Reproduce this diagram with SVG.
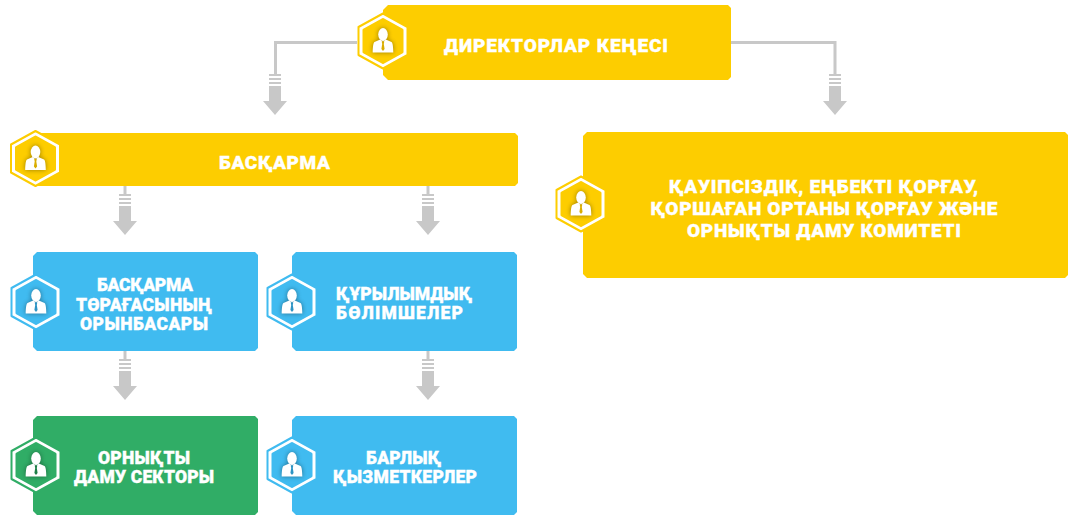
<svg xmlns="http://www.w3.org/2000/svg" width="1081" height="523" viewBox="0 0 1081 523">
<style>
text{font-family:"Roboto","Liberation Sans",sans-serif;font-weight:900;font-size:19px;fill:#fff;stroke:#fff;stroke-width:.35px;text-anchor:middle}
.s{font-size:17.500px}
.y{fill:#fdcd00}.b{fill:#40bbf0}.g{fill:#30ad66}
.ln{fill:none;stroke:#c8c8c8;stroke-width:3}
.ar{fill:#c8c8c8}
.hy{stroke:#fdcd00}.hb{stroke:#40bbf0}.hg{stroke:#30ad66}
.ho{fill:#fff;stroke-width:2;stroke-linejoin:round}
.hi{stroke-width:3;stroke-linejoin:round}
</style>
<defs>
<filter id="sh" x="-60%" y="-60%" width="220%" height="220%"><feGaussianBlur stdDeviation="2.800"/></filter>
<path id="arrow" d="M-6-41H6v2H-6zM-6-37H6v2H-6zM-6-33H6v2H-6zM-6-29H6v15H12L0 0-12-14H-6z"/>
<path id="body" d="M-2.800-1.500 0 1 2.800-1.500 8.500 1C10 2 10.300 8 10.300 11.500H-10.300C-10.300 8-10 2-8.500 1Z"/>
<g id="man"><use href="#body" fill="#000" opacity=".4" filter="url(#sh)"/><ellipse cx="0" cy="-6.500" rx="4.800" ry="6.500" fill="#000" opacity=".4" filter="url(#sh)"/><ellipse cx="0" cy="-6.500" rx="4.800" ry="6.500" fill="#fff"/><use href="#body" fill="#fff"/><path d="M-1.300 0.500H1.300L.8 3 1.600 8 0 10-1.600 8-.8 3Z"/></g>
<polygon id="hexo" points="0,-27.500 24.500,-14 24.500,14 0,27.500 -24.500,14 -24.500,-14"/>
<polygon id="hexi" points="0,-21.500 19,-11 19,11 0,21.500 -19,11 -19,-11"/>
<g id="iy"><use href="#hexo" class="ho hy"/><use href="#hexi" class="hi hy y"/><use href="#man" fill="#d9ad00"/></g>
<g id="ib"><use href="#hexo" class="ho hb"/><use href="#hexi" class="hi hb b"/><use href="#man" fill="#2d94c4"/></g>
<g id="ig"><use href="#hexo" class="ho hg"/><use href="#hexi" class="hi hg g"/><use href="#man" fill="#1d7f47"/></g>
</defs>
<g id="connectors">
<path class="ln" d="M357 42.500H275.500V74"/>
<path class="ln" d="M731 42.500H835V74"/>
<path class="ln" d="M125 186V194"/>
<path class="ln" d="M428 186V194"/>
<path class="ln" d="M125 351V359"/>
<path class="ln" d="M428 351V359"/>
<g class="ar">
<use href="#arrow" x="275" y="115"/>
<use href="#arrow" x="835" y="115"/>
<use href="#arrow" x="125" y="235"/>
<use href="#arrow" x="428" y="235"/>
<use href="#arrow" x="125" y="400"/>
<use href="#arrow" x="428" y="400"/>
</g>
</g>
<g id="n-directors">
<path class="y" d="M388 5H728L731 8V77L728 80H388L383 75V10Z"/>
<use href="#iy" x="383" y="41"/>
<text x="556" y="52" textLength="224">ДИРЕКТОРЛАР КЕҢЕСІ</text>
</g>
<g id="n-board">
<path class="y" d="M38 133H515L518 136V183L515 186H38L33 181V138Z"/>
<use href="#iy" x="35.500" y="158.500"/>
<text x="274.500" y="169" textLength="111">БАСҚАРМА</text>
</g>
<g id="n-committee">
<path class="y" d="M587 132H1065L1068 135V275L1065 278H587L583 274V136Z"/>
<use href="#iy" x="581" y="204"/>
<text x="823.500" y="193" textLength="309">ҚАУІПСІЗДІК, ЕҢБЕКТІ ҚОРҒАУ,</text>
<text x="824" y="215" textLength="347">ҚОРШАҒАН ОРТАНЫ ҚОРҒАУ ЖӘНЕ</text>
<text x="824" y="237" textLength="274">ОРНЫҚТЫ ДАМУ КОМИТЕТІ</text>
</g>
<g id="n-deputy">
<path class="b" d="M37 252H255L258 255V348L255 351H37L33 347V256Z"/>
<use href="#ib" x="36" y="302"/>
<text class="s" x="145" y="291" textLength="96">БАСҚАРМА</text>
<text class="s" x="144" y="311" textLength="136">ТӨРАҒАСЫНЫҢ</text>
<text class="s" x="144" y="330" textLength="128">ОРЫНБАСАРЫ</text>
</g>
<g id="n-units">
<path class="b" d="M296 252H514L517 255V348L514 351H296L292 347V256Z"/>
<use href="#ib" x="292" y="302"/>
<text class="s" x="404" y="300" textLength="136">ҚҰРЫЛЫМДЫҚ</text>
<text class="s" x="399.500" y="319" textLength="127">БӨЛІМШЕЛЕР</text>
</g>
<g id="n-sector">
<path class="g" d="M37 416H255L258 419V512L255 515H37L33 511V420Z"/>
<use href="#ig" x="36" y="465"/>
<text class="s" x="144" y="464" textLength="92">ОРНЫҚТЫ</text>
<text class="s" x="144" y="483" textLength="140">ДАМУ СЕКТОРЫ</text>
</g>
<g id="n-staff">
<path class="b" d="M296 416H514L517 419V512L514 515H296L292 511V420Z"/>
<use href="#ib" x="292" y="465"/>
<text class="s" x="403.500" y="464" textLength="75">БАРЛЫҚ</text>
<text class="s" x="405" y="483" textLength="144">ҚЫЗМЕТКЕРЛЕР</text>
</g>
</svg>
